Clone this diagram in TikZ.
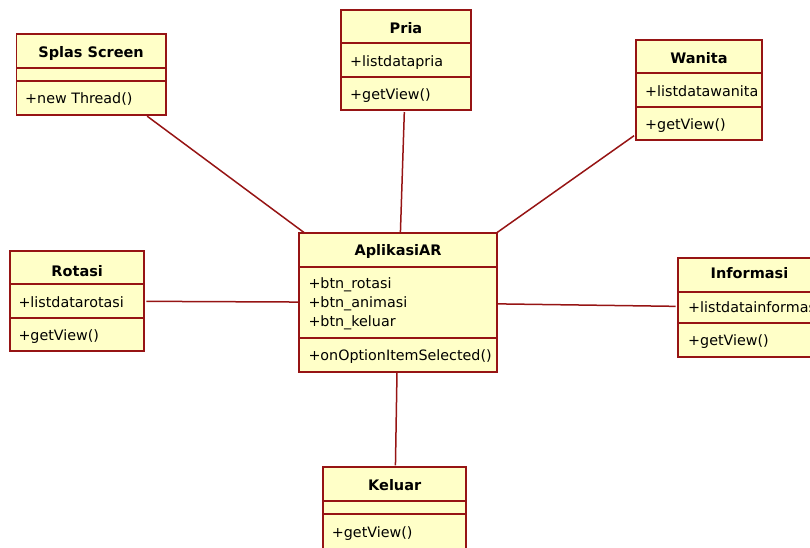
\documentclass[tikz,border=0pt]{standalone}
\usepackage{fontspec}
\setmainfont{DejaVu Sans}
\definecolor{umlfill}{RGB}{255,255,200}
\definecolor{umlline}{RGB}{150,20,20}
\begin{document}
\begin{tikzpicture}[x=1pt,y=-1pt,
  cls/.style={draw=umlline, fill=umlfill, line width=1.8pt, inner sep=0pt, outer sep=0pt, anchor=north west},
  divider/.style={draw=umlline, line width=1.7pt},
  ctitle/.style={font=\fontsize{14.5}{17}\selectfont\bfseries, anchor=base, inner sep=0pt},
  member/.style={font=\fontsize{14.3}{17}\selectfont, anchor=base west, inner sep=0pt},
  link/.style={draw=umlline, line width=1.5pt, shorten >=2pt}]
\useasboundingbox (0,0) rectangle (810,547);
\clip (0,0) rectangle (810,547);

% Splas Screen
\node[cls, minimum width=149.2pt, minimum height=81pt] (splas) at (16.5,34) {};
\draw[divider] (16.5,67.7) -- (165.7,67.7);
\draw[divider] (16.5,81.3) -- (165.7,81.3);
\node[ctitle] (splas-t) at (91.1,57) {Splas Screen};
\node[member] (splas-o) at (25,103) {+new Thread()};

% Pria
\node[cls, minimum width=130pt, minimum height=100pt] (pria) at (341,10) {};
\draw[divider] (341,43.3) -- (471,43.3);
\draw[divider] (341,76.7) -- (471,76.7);
\node[ctitle] (pria-t) at (406,33) {Pria};
\node[member] (pria-a) at (350,66) {+listdatapria};
\node[member] (pria-o) at (350,99) {+getView()};

% Wanita
\node[cls, minimum width=126.6pt, minimum height=100pt] (wanita) at (635.7,40) {};
\draw[divider] (635.7,73.3) -- (762.3,73.3);
\draw[divider] (635.7,106.7) -- (762.3,106.7);
\node[ctitle] (wanita-t) at (699,63) {Wanita};
\node[member] (wanita-a) at (645,96) {+listdatawanita};
\node[member] (wanita-o) at (645,129) {+getView()};

% AplikasiAR
\node[cls, minimum width=198.3pt, minimum height=139.6pt] (ar) at (299,232.7) {};
\draw[divider] (299,266.7) -- (497.3,266.7);
\draw[divider] (299,338.3) -- (497.3,338.3);
\node[ctitle] (ar-t) at (398.1,255) {AplikasiAR};
\node[member] (ar-a1) at (308.3,288) {+btn\_rotasi};
\node[member] (ar-a2) at (308.3,307) {+btn\_animasi};
\node[member] (ar-a3) at (308.3,326) {+btn\_keluar};
\node[member] (ar-o) at (308.3,360) {+onOptionItemSelected()};

% Rotasi
\node[cls, minimum width=134.3pt, minimum height=100pt] (rotasi) at (10,251) {};
\draw[divider] (10,284.3) -- (144.3,284.3);
\draw[divider] (10,317.7) -- (144.3,317.7);
\node[ctitle] (rotasi-t) at (77.2,276) {Rotasi};
\node[member] (rotasi-a) at (18.3,307) {+listdatarotasi};
\node[member] (rotasi-o) at (18.3,340) {+getView()};

% Informasi (runs past the right edge)
\node[cls, minimum width=143.6pt, minimum height=99.3pt] (info) at (677.7,257.7) {};
\draw[divider] (677.7,291.7) -- (821.3,291.7);
\draw[divider] (677.7,323) -- (821.3,323);
\node[ctitle] (info-t) at (749.5,278) {Informasi};
\node[member] (info-a) at (688,312) {+listdatainformasi};
\node[member] (info-o) at (688,345) {+getView()};

% Keluar (runs past the bottom edge)
\node[cls, minimum width=142.7pt, minimum height=92pt] (keluar) at (323.3,467.3) {};
\draw[divider] (323.3,501) -- (466,501);
\draw[divider] (323.3,514.3) -- (466,514.3);
\node[ctitle] (keluar-t) at (394.7,490) {Keluar};
\node[member] (keluar-o) at (331.7,537) {+getView()};

% associations
\draw[link] (ar) -- (splas);
\draw[link] (ar) -- (pria);
\draw[link] (ar) -- (wanita);
\draw[link] (ar) -- (rotasi);
\draw[link] (ar) -- (info);
\draw[link] (ar) -- (keluar);
\end{tikzpicture}
\end{document}
